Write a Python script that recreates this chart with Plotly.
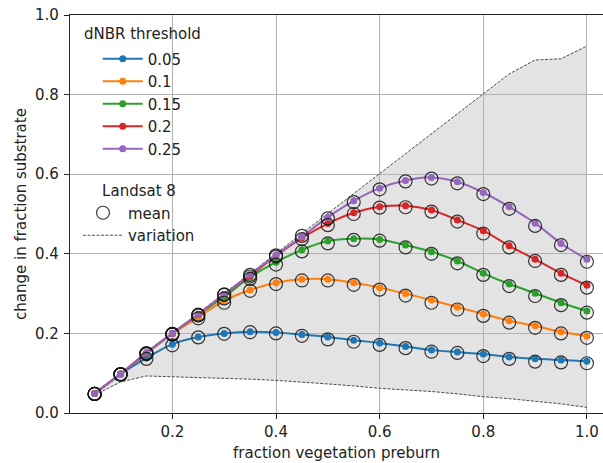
import plotly.graph_objects as go

# fraction of vegetation before the burn
frac_veg = [0.05, 0.10, 0.15, 0.20, 0.25, 0.30, 0.35, 0.40, 0.45, 0.50,
            0.55, 0.60, 0.65, 0.70, 0.75, 0.80, 0.85, 0.90, 0.95, 1.00]

thresholds = ["0.05", "0.1", "0.15", "0.2", "0.25"]
colors = ["#1f77b4", "#ff7f0e", "#2ca02c", "#d62728", "#9467bd"]

# modelled change in fraction substrate per dNBR threshold
model_005 = [0.049, 0.098, 0.138, 0.173, 0.191, 0.200, 0.204, 0.202, 0.197, 0.191,
             0.183, 0.176, 0.167, 0.158, 0.153, 0.148, 0.141, 0.136, 0.133, 0.130]
model_010 = [0.049, 0.098, 0.150, 0.199, 0.241, 0.282, 0.309, 0.327, 0.336, 0.336,
             0.327, 0.315, 0.300, 0.284, 0.266, 0.249, 0.232, 0.219, 0.204, 0.193]
model_015 = [0.049, 0.098, 0.151, 0.200, 0.247, 0.292, 0.341, 0.379, 0.410, 0.432,
             0.438, 0.436, 0.422, 0.405, 0.382, 0.351, 0.324, 0.301, 0.277, 0.256]
model_020 = [0.049, 0.098, 0.151, 0.200, 0.248, 0.298, 0.345, 0.395, 0.440, 0.476,
             0.503, 0.518, 0.521, 0.510, 0.485, 0.458, 0.420, 0.386, 0.351, 0.321]
model_025 = [0.049, 0.098, 0.152, 0.200, 0.248, 0.298, 0.348, 0.397, 0.443, 0.492,
             0.533, 0.565, 0.584, 0.592, 0.581, 0.554, 0.518, 0.477, 0.426, 0.386]

# Landsat 8 mean values
ls8_005 = [0.048, 0.097, 0.136, 0.170, 0.190, 0.199, 0.203, 0.200, 0.194, 0.185,
           0.179, 0.171, 0.163, 0.154, 0.151, 0.143, 0.136, 0.129, 0.127, 0.125]
ls8_010 = [0.048, 0.097, 0.148, 0.197, 0.238, 0.277, 0.307, 0.324, 0.333, 0.333,
           0.322, 0.310, 0.295, 0.277, 0.260, 0.244, 0.227, 0.214, 0.200, 0.189]
ls8_015 = [0.048, 0.097, 0.149, 0.198, 0.245, 0.288, 0.337, 0.373, 0.406, 0.426,
           0.435, 0.433, 0.416, 0.400, 0.376, 0.347, 0.319, 0.294, 0.271, 0.252]
ls8_020 = [0.048, 0.097, 0.150, 0.198, 0.246, 0.297, 0.343, 0.393, 0.437, 0.472,
           0.500, 0.516, 0.517, 0.506, 0.481, 0.451, 0.416, 0.382, 0.347, 0.315]
ls8_025 = [0.048, 0.097, 0.150, 0.199, 0.247, 0.298, 0.347, 0.396, 0.445, 0.489,
           0.530, 0.562, 0.582, 0.589, 0.577, 0.550, 0.513, 0.470, 0.422, 0.380]

# variation envelope
var_upper = [0.050, 0.100, 0.150, 0.200, 0.250, 0.300, 0.350, 0.400, 0.450, 0.500,
             0.550, 0.600, 0.650, 0.700, 0.750, 0.800, 0.852, 0.887, 0.890, 0.922]
var_lower = [0.045, 0.078, 0.093, 0.091, 0.090, 0.087, 0.085, 0.082, 0.078, 0.073,
             0.068, 0.062, 0.058, 0.054, 0.048, 0.041, 0.036, 0.030, 0.023, 0.014]

model_series = [model_005, model_010, model_015, model_020, model_025]
ls8_series = [ls8_005, ls8_010, ls8_015, ls8_020, ls8_025]

FONT = "DejaVu Sans"
FS = 15
fig = go.Figure()

# shaded envelope
fig.add_trace(go.Scatter(x=frac_veg, y=var_lower, mode="lines",
                         line=dict(width=0), showlegend=False, hoverinfo="skip"))
fig.add_trace(go.Scatter(x=frac_veg, y=var_upper, mode="lines", fill="tonexty",
                         fillcolor="rgba(185,185,185,0.40)",
                         line=dict(width=0), showlegend=False, hoverinfo="skip"))

# dashed envelope edges
fig.add_trace(go.Scatter(x=frac_veg, y=var_upper, mode="lines", name="variation",
                         line=dict(color="#3a3a3a", width=0.9, dash="3px,1.5px"),
                         legend="legend2", legendrank=2))
fig.add_trace(go.Scatter(x=frac_veg, y=var_lower, mode="lines", showlegend=False,
                         line=dict(color="#3a3a3a", width=0.9, dash="3px,1.5px")))

# modelled curves
for name, col, ys in zip(thresholds, colors, model_series):
    fig.add_trace(go.Scatter(
        x=frac_veg, y=ys, mode="lines+markers", name=name,
        line=dict(color=col, width=2, shape="spline", smoothing=0.8),
        marker=dict(color=col, size=7), legend="legend"))

# Landsat 8 means
for i, ys in enumerate(ls8_series):
    fig.add_trace(go.Scatter(
        x=frac_veg, y=ys, mode="markers", name="mean",
        marker=dict(symbol="circle-open", size=13, color="rgba(20,20,20,0.85)",
                    line=dict(width=1.2)),
        showlegend=(i == 0), legend="legend2", legendrank=1))

axis_common = dict(
    showgrid=True, gridcolor="#b0b0b0", gridwidth=0.8,
    showline=True, linecolor="#222222", linewidth=1.2,
    ticks="outside", ticklen=5, tickcolor="#222222",
    tickfont=dict(family=FONT, size=FS, color="#222222"),
    tickformat=".1f", zeroline=False,
)

fig.update_layout(
    width=603, height=463,
    margin=dict(l=70, r=0, t=15, b=50),
    paper_bgcolor="white", plot_bgcolor="white",
    font=dict(family=FONT, size=FS, color="#222222"),
    xaxis=dict(axis_common, range=[0.0025, 1.031], tickvals=[0.2, 0.4, 0.6, 0.8, 1.0],
               mirror=True,
               title=dict(text="fraction vegetation preburn", standoff=7,
                          font=dict(family=FONT, size=FS))),
    yaxis=dict(axis_common, range=[0, 1.0], tickvals=[0, 0.2, 0.4, 0.6, 0.8, 1.0],
               ticklabelstandoff=2,
               title=dict(text="change in fraction substrate", standoff=4,
                          font=dict(family=FONT, size=FS))),
    legend=dict(x=0.052, y=0.931, xanchor="left", yanchor="top",
                traceorder="normal",
                bgcolor="rgba(0,0,0,0)", font=dict(family=FONT, size=FS),
                itemwidth=40, tracegroupgap=0),
    legend2=dict(x=0.015, y=0.593, xanchor="left", yanchor="top",
                 traceorder="normal",
                 bgcolor="rgba(0,0,0,0)", font=dict(family=FONT, size=FS),
                 title=dict(text="Landsat 8", side="top center",
                            font=dict(family=FONT, size=FS)),
                 itemwidth=40),
    annotations=[dict(text="dNBR threshold", xref="paper", yref="paper",
                      x=0.022, y=0.952, xanchor="left", yanchor="middle",
                      showarrow=False, font=dict(family=FONT, size=FS, color="#222222"))],
)

fig.write_html("out.html")
